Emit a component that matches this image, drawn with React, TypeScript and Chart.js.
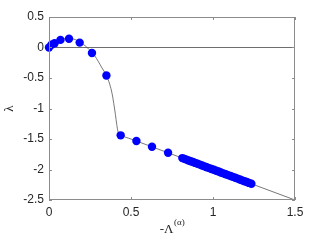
import { useEffect, useRef } from 'react';
import { Chart, registerables } from 'chart.js';

Chart.register(...registerables);

const X_TICKS = [0, 0.5, 1, 1.5];
const Y_TICKS = [0.5, 0, -0.5, -1, -1.5, -2, -2.5];

// theoretical curve
const CURVE_X = [0, 0.02, 0.05, 0.08, 0.12, 0.16, 0.2, 0.24, 0.28, 0.32, 0.35, 0.37, 0.385, 0.395, 0.405, 0.413, 0.42, 0.43, 0.44, 0.5, 0.75, 1.0, 1.25, 1.5];
const CURVE_Y = [0, 0.05, 0.1, 0.135, 0.15, 0.13, 0.07, -0.02, -0.14, -0.32, -0.46, -0.6, -0.76, -0.92, -1.1, -1.26, -1.37, -1.42, -1.44, -1.5, -1.75, -2.0, -2.25, -2.5];

// sampled points
const POINT_X = [0, 0.015, 0.034, 0.07, 0.122, 0.187, 0.262, 0.35, 0.437, 0.533, 0.628, 0.726,
  0.813, 0.826, 0.838, 0.851, 0.864, 0.878, 0.892, 0.906, 0.92, 0.934, 0.948, 0.962, 0.977, 0.991,
  1.005, 1.02, 1.034, 1.048, 1.063, 1.078, 1.092, 1.107, 1.121, 1.136, 1.15, 1.164, 1.178, 1.192,
  1.206, 1.22, 1.234];
const POINT_Y = [0, 0.045, 0.07, 0.125, 0.143, 0.08, -0.09, -0.46, -1.44, -1.533, -1.628, -1.726,
  -1.813, -1.826, -1.838, -1.851, -1.864, -1.878, -1.892, -1.906, -1.92, -1.934, -1.948, -1.962, -1.977, -1.991,
  -2.005, -2.02, -2.034, -2.048, -2.063, -2.078, -2.092, -2.107, -2.121, -2.136, -2.15, -2.164, -2.178, -2.192,
  -2.206, -2.22, -2.234];

const ZERO_X = [0, 1.5];
const ZERO_Y = [0, 0];

const AXIS = '#8c8c8c';
const TEXT = '#262626';

export default function App() {
  const ref = useRef<HTMLCanvasElement>(null);

  useEffect(() => {
    const canvas = ref.current;
    if (!canvas) return;

    const boxPlugin = {
      id: 'box',
      afterDraw(chart: any) {
        const { ctx, chartArea, scales } = chart;
        const { left, right, top, bottom } = chartArea;
        const xs = scales.x;
        const ys = scales.y;
        ctx.save();
        ctx.strokeStyle = AXIS;
        ctx.lineWidth = 1;
        ctx.strokeRect(left + 0.5, top + 0.5, right - left - 1, bottom - top - 1);
        const tl = 3;
        ctx.beginPath();
        for (const v of X_TICKS) {
          const px = Math.round(xs.getPixelForValue(v)) + 0.5;
          ctx.moveTo(px, bottom);
          ctx.lineTo(px, bottom - tl);
          ctx.moveTo(px, top);
          ctx.lineTo(px, top + tl);
        }
        for (const v of Y_TICKS) {
          const py = Math.round(ys.getPixelForValue(v)) + 0.5;
          ctx.moveTo(left, py);
          ctx.lineTo(left + tl, py);
          ctx.moveTo(right, py);
          ctx.lineTo(right - tl, py);
        }
        ctx.stroke();

        // x title: -Λ^(α)
        ctx.fillStyle = TEXT;
        ctx.textBaseline = 'alphabetic';
        const cx = (left + right) / 2;
        ctx.font = '13px "Liberation Serif", "DejaVu Serif", serif';
        const main = '-Λ';
        const wMain = ctx.measureText(main).width;
        ctx.font = '9px "Liberation Serif", "DejaVu Serif", serif';
        const sup = '(α)';
        const wSup = ctx.measureText(sup).width;
        const x0 = cx - (wMain + wSup) / 2;
        ctx.font = '13px "Liberation Serif", "DejaVu Serif", serif';
        ctx.textAlign = 'left';
        ctx.fillText(main, x0, 233);
        ctx.font = '9px "Liberation Serif", "DejaVu Serif", serif';
        ctx.fillText(sup, x0 + wMain + 0.5, 225);

        // y title: λ rotated
        ctx.save();
        ctx.translate(13, (top + bottom) / 2);
        ctx.rotate(-Math.PI / 2);
        ctx.textAlign = 'center';
        ctx.font = '13px "Liberation Serif", "DejaVu Serif", serif';
        ctx.fillText('λ', 0, 0);
        ctx.restore();
        ctx.restore();
      },
    };

    const chart = new Chart(canvas, {
      type: 'scatter',
      data: {
        datasets: [
          {
            data: POINT_X.map((x, i) => ({ x, y: POINT_Y[i] })),
            backgroundColor: '#0000ff',
            borderWidth: 0,
            pointRadius: 4.2,
            showLine: false,
            clip: false,
          } as any,
          {
            data: CURVE_X.map((x, i) => ({ x, y: CURVE_Y[i] })),
            showLine: true,
            borderColor: '#555555',
            borderWidth: 0.8,
            pointRadius: 0,
            cubicInterpolationMode: 'monotone',
          } as any,
          {
            data: ZERO_X.map((x, i) => ({ x, y: ZERO_Y[i] })),
            showLine: true,
            borderColor: '#6e6e6e',
            borderWidth: 1,
            pointRadius: 0,
          },
        ],
      },
      options: {
        animation: false,
        responsive: false,
        layout: { padding: { top: 17, right: 32, left: 0, bottom: 0 } },
        plugins: { legend: { display: false }, tooltip: { enabled: false } },
        scales: {
          x: {
            type: 'linear',
            min: 0,
            max: 1.5,
            afterBuildTicks: (s: any) => { s.ticks = X_TICKS.map((v) => ({ value: v })); },
            afterFit: (s: any) => { s.height = 45; },
            grid: { display: false, drawTicks: false },
            border: { display: false },
            ticks: {
              padding: 5,
              color: TEXT,
              font: { family: '"Liberation Sans", Arial, sans-serif', size: 12 },
              callback: (v: any) => String(v),
              maxRotation: 0,
            },
          },
          y: {
            type: 'linear',
            min: -2.5,
            max: 0.5,
            afterBuildTicks: (s: any) => { s.ticks = Y_TICKS.map((v) => ({ value: v })); },
            afterFit: (s: any) => { s.width = 49; },
            grid: { display: false, drawTicks: false },
            border: { display: false },
            ticks: {
              padding: 5,
              color: TEXT,
              font: { family: '"Liberation Sans", Arial, sans-serif', size: 12 },
              callback: (v: any) => String(v),
            },
          },
        },
      },
      plugins: [boxPlugin],
    });
    return () => chart.destroy();
  }, []);

  return (
    <div style={{ position: 'fixed', left: 0, top: 0, width: 327, height: 245, background: '#fff' }}>
      <canvas ref={ref} width={327} height={245} style={{ display: 'block' }} />
    </div>
  );
}
